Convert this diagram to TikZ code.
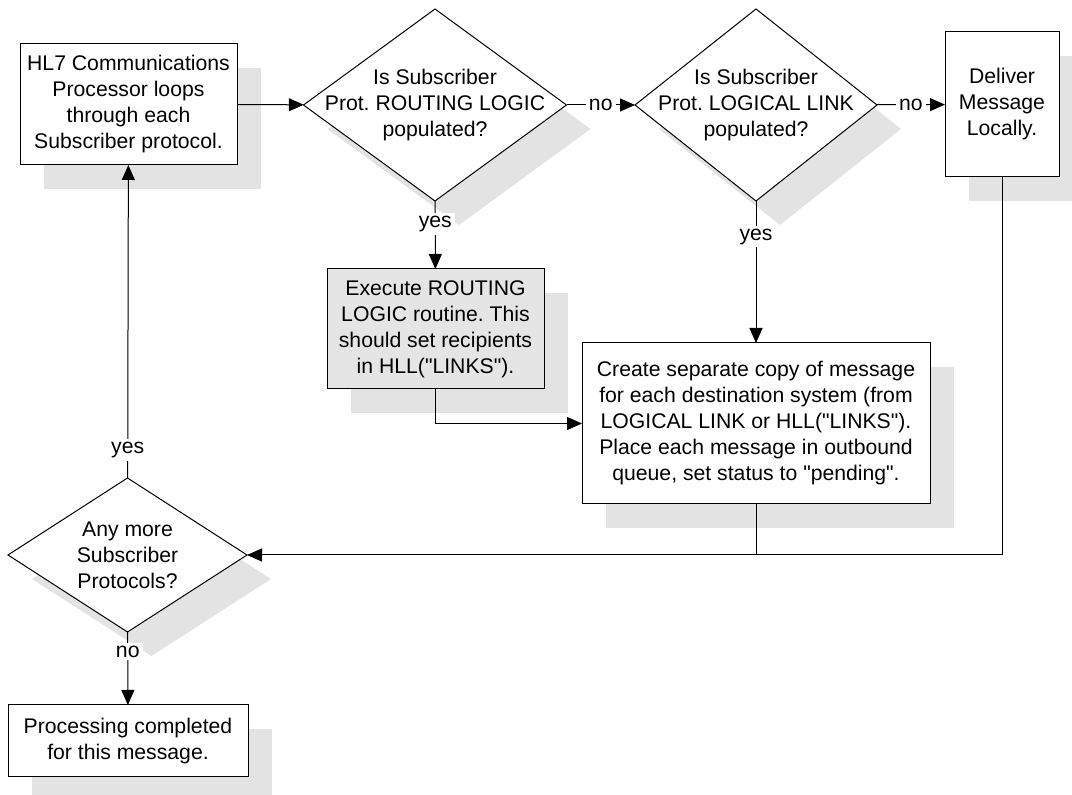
\documentclass[tikz,border=0pt]{standalone}
\usepackage{fontspec}
\setmainfont{Liberation Sans}
\usetikzlibrary{arrows.meta,shapes.geometric,shadows}
\frenchspacing

\tikzset{
  boxshadow/.style={drop shadow={shadow xshift=12pt, shadow yshift=-12pt, fill=black!11, opacity=1}},
  box/.style={rectangle, draw, fill=white, boxshadow, align=center, inner sep=0pt, outer sep=0pt},
  decision/.style={diamond, draw, fill=white, boxshadow, inner sep=0pt, outer sep=0pt},
  flow/.style={-{Triangle[length=7.5pt,width=6.5pt]}},
  lbl/.style={fill=white, inner sep=1.5pt},
}

\begin{document}
\begin{tikzpicture}[x=0.5pt, y=-0.5pt, font=\fontsize{10.6}{13}\selectfont, line width=0.5pt]
    \useasboundingbox (0,0) rectangle (1072,795);

    % top row
    \node[box, minimum width=108.5pt, minimum height=60.5pt] (proc) at (128.5,104.5) {HL7 Communications\\Processor loops\\through each\\Subscriber protocol.};
    \node[decision, minimum width=131.5pt, minimum height=96pt] (askRL) at (435,105) {};
    \node[align=center] (askRLtext) at (askRL.center) {Is Subscriber\\Prot. ROUTING LOGIC\\populated?};
    \node[decision, minimum width=121pt, minimum height=96pt] (askLL) at (756,105) {};
    \node[align=center] (askLLtext) at (askLL.center) {Is Subscriber\\Prot. LOGICAL LINK\\populated?};
    \node[box, minimum width=57pt, minimum height=72.5pt] (local) at (1002,104.5) {Deliver\\Message\\Locally.};

    % middle row
    \node[box, fill=black!10, minimum width=108.5pt, minimum height=60pt] (route) at (435.5,329) {Execute ROUTING\\LOGIC routine. This\\should set recipients\\in HLL(\textquotedbl LINKS\textquotedbl).};
    \node[box, minimum width=174pt, minimum height=80.5pt] (copy) at (756,423.5) {Create separate copy of message\\for each destination system (from\\LOGICAL LINK or HLL(\textquotedbl LINKS\textquotedbl).\\Place each message in outbound\\queue, set status to \textquotedbl pending\textquotedbl.};

    % bottom
    \node[decision, minimum width=119.5pt, minimum height=77pt] (more) at (127.5,555) {};
    \node[align=center] (moretext) at (more.center) {Any more\\Subscriber\\Protocols?};
    \node[box, minimum width=120pt, minimum height=36pt] (done) at (128,741) {Processing completed\\for this message.};

    \draw[flow] (proc) -- (askRL);
    \draw[flow] (askRL) -- node[lbl] {no} (askLL);
    \draw[flow] (askLL) -- node[lbl] {no} (local);
    \draw[flow] (askRL) -- node[lbl, pos=0.34] {yes} (route);
    \draw[flow] (askLL) -- node[lbl, pos=0.25] {yes} (copy);
    \draw[flow] (route.south) |- (copy.west);
    \draw (copy.south) -- (copy.south |- more.east);
    \draw[flow] (local.south) |- (more.east);
    \draw[flow] (more) -- node[lbl, pos=0.09] {yes} (proc);
    \draw[flow] (more) -- node[lbl, pos=0.27] {no} (done);
\end{tikzpicture}
\end{document}
